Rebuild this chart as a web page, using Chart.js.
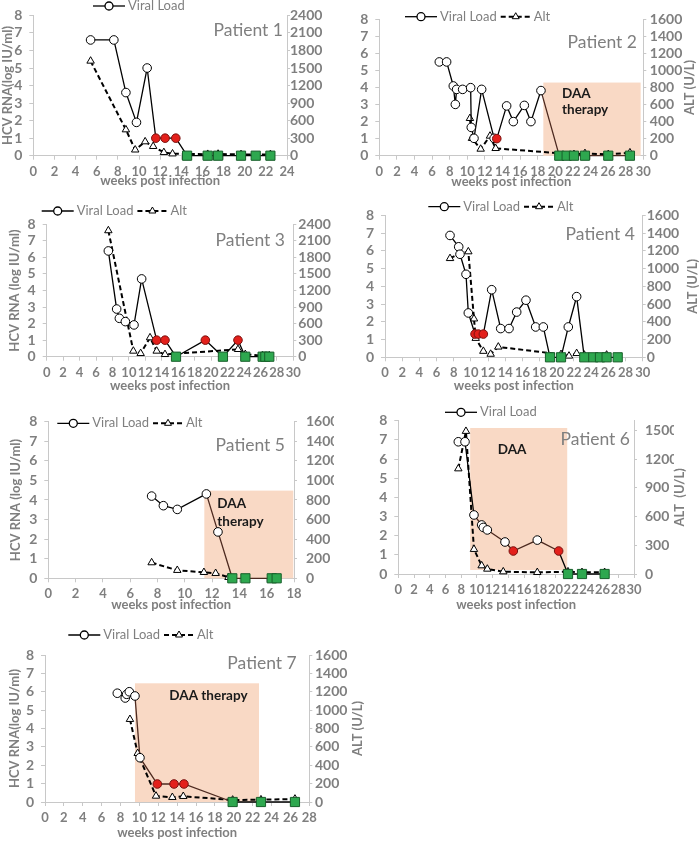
<!DOCTYPE html>
<html>
<head>
<meta charset="utf-8">
<script src="https://cdn.jsdelivr.net/npm/chart.js@4.4.1/dist/chart.umd.min.js"></script>
<style>
  html, body { margin: 0; padding: 0; background: #fff; }
  #wrap { position: relative; width: 700px; height: 843px; overflow: hidden; }
  canvas { position: absolute; }
</style>
</head>
<body>
<div id="wrap">
  <canvas id="c1" width="350" height="200" style="left:0;top:0"></canvas>
  <canvas id="c2" width="350" height="200" style="left:350px;top:0"></canvas>
  <canvas id="c3" width="350" height="200" style="left:0;top:200px"></canvas>
  <canvas id="c4" width="350" height="200" style="left:350px;top:200px"></canvas>
  <canvas id="c5" width="350" height="220" style="left:0;top:400px"></canvas>
  <canvas id="c6" width="350" height="220" style="left:350px;top:400px"></canvas>
  <canvas id="c7" width="400" height="223" style="left:0;top:620px"></canvas>
</div>
<script>
// ---- data (weeks post infection, log IU/ml, U/L) ----
// marker type: o = detectable, r = below quantification, g = undetectable
const p1VlWeeks = [5.42, 7.62, 8.76, 9.76, 10.77, 11.59, 12.47, 13.48, 14.55, 16.5, 17.48, 19.65, 21.04, 22.43];
const p1Vl      = [6.6, 6.6, 3.6, 1.9, 5.0, 1, 1, 1, 0, 0, 0, 0, 0, 0];
const p1VlType  = 'ooooo' + 'rrr' + 'gggggg';
const p1AltWeeks = [5.42, 8.76, 9.64, 10.58, 11.34, 12.35, 13.17, 16.5, 17.48, 19.65, 22.43];
const p1Alt      = [1620, 445, 100, 240, 160, 56, 33, 25, 28, 22, 22];

const p2VlWeeks = [6.82, 7.65, 8.41, 8.64, 8.79, 9.47, 10.38, 10.45, 10.76, 11.63, 13.05, 13.35, 14.47, 15.23, 16.48, 17.23, 18.37, 20.45, 21.29, 22.12, 23.37, 26.02, 28.48];
const p2Vl      = [5.5, 5.5, 4.09, 3.01, 3.89, 3.89, 3.99, 1.66, 1.02, 3.89, 1.02, 1.0, 2.92, 2.0, 2.95, 2.0, 3.82, 0, 0, 0, 0, 0, 0];
const p2VlType  = 'ooooooooooo' + 'r' + 'ooooo' + 'gggggg';
const p2AltWeeks = [10.3, 10.53, 11.52, 12.58, 13.22, 22.12, 23.37, 26.02, 28.48];
const p2Alt      = [438, 204, 78, 231, 86, 16, 27, 16, 35];
const p2Daa      = [18.64, 29.7, 0, 4.29];

const p3VlWeeks = [7.5, 8.51, 8.84, 9.57, 10.62, 11.55, 13.38, 14.39, 15.73, 19.3, 21.44, 23.27, 24.16, 26.27, 26.6, 27.08];
const p3Vl      = [6.39, 2.88, 2.32, 2.12, 1.92, 4.70, 1, 1, 0, 1, 0, 1, 0, 0, 0, 0];
const p3VlType  = 'oooooo' + 'rr' + 'g' + 'r' + 'g' + 'r' + 'gggg';
const p3AltWeeks = [7.5, 10.54, 11.43, 12.57, 13.38, 14.39, 23.27, 24.16, 26.27, 27.08];
const p3Alt      = [2286, 103, 60, 345, 103, 42, 133, 42, 18, 18];

const p4VlWeeks = [7.57, 8.58, 8.73, 9.43, 9.70, 10.48, 10.87, 11.45, 12.42, 13.47, 14.44, 15.33, 16.41, 17.54, 18.43, 19.21, 20.49, 21.34, 22.31, 23.2, 24.25, 25.03, 25.8, 27.09];
const p4Vl      = [6.87, 6.23, 5.81, 4.68, 2.50, 1.31, 1.31, 1.31, 3.81, 1.62, 1.62, 2.55, 3.22, 1.71, 1.71, 0, 0, 1.71, 3.42, 0, 0, 0, 0, 0];
const p4VlType  = 'ooooo' + 'rrr' + 'ooooooo' + 'gg' + 'oo' + 'ggggg';
const p4AltWeeks = [7.57, 8.73, 9.70, 10.36, 10.56, 11.45, 12.3, 13.19, 20.49, 21.42, 22.31, 23.2, 25.8];
const p4Alt      = [1115, 1173, 1191, 434, 215, 69, 36, 117, 33, 15, 44, 26, 26];

const p5VlWeeks = [7.57, 8.43, 9.45, 11.58, 12.43, 13.48, 14.44, 16.37, 16.73];
const p5Vl      = [4.2, 3.71, 3.52, 4.31, 2.37, 0, 0, 0, 0];
const p5VlType  = 'ooooo' + 'gggg';
const p5AltWeeks = [7.57, 9.45, 11.4, 12.26, 13.2];
const p5Alt      = [160, 82, 61, 51, 10];
const p5Daa      = [11.43, 17.95, 0, 4.48];

const p6VlWeeks = [7.64, 8.49, 9.63, 10.61, 10.82, 11.33, 13.58, 14.64, 17.69, 20.41, 21.6, 23.38, 26.26];
const p6Vl      = [6.9, 6.9, 3.08, 2.56, 2.43, 2.30, 1.67, 1.2, 1.77, 1.2, 0, 0, 0];
const p6VlType  = 'ooooooo' + 'r' + 'o' + 'r' + 'ggg';
const p6AltWeeks = [7.64, 8.61, 9.63, 10.61, 11.33, 13.36, 17.69, 21.6, 23.38, 26.26];
const p6Alt      = [1099, 1490, 258, 87, 52, 24, 17, 24, 17, 17];
const p6Daa      = [9.15, 21.5, 0.21, 7.62];

const p7VlWeeks = [7.66, 8.5, 8.65, 8.93, 9.53, 10.06, 11.9, 13.67, 14.72, 19.88, 22.88, 26.48];
const p7Vl      = [5.92, 5.66, 5.86, 6.0, 5.77, 2.41, 0.98, 0.98, 0.98, 0, 0, 0];
const p7VlType  = 'oooooo' + 'rrr' + 'ggg';
const p7AltWeeks = [9.0, 9.82, 11.76, 13.49, 14.65, 19.88, 22.88, 26.48];
const p7Alt      = [900, 530, 65, 51, 62, 22, 25, 33];
const p7Daa      = [9.53, 22.67, 0, 6.46];

// ---- look ----
const FONT = 'Lato, "Liberation Sans", sans-serif';
const GREY = '#7f7f7f';
const AXIS = '#c8c8c8';
const W_L = 25, W_R = 40, H_X = 30;

const panels = [
  { id: 'c1', x: 0, y: 0, w: 350, h: 200, area: [33.3, 12, 287, 155.7], xMax: 24, rMax: 2400, rStep: 300, rGap: 3,
    vlW: p1VlWeeks, vl: p1Vl, vlType: p1VlType, altW: p1AltWeeks, alt: p1Alt, daa: null,
    legend: [93, 6, false], patient: [283, 30, 'Patient 1'], xTitleY: 181,
    leftTitle: [8.3, 'HCV RNA(log IU/ml)'], rightTitle: null, daaText: [] },
  { id: 'c2', x: 350, y: 0, w: 350, h: 200, area: [379.3, 19.3, 643.3, 155.7], xMax: 30, rMax: 1600, rStep: 200, rGap: 6.5,
    vlW: p2VlWeeks, vl: p2Vl, vlType: p2VlType, altW: p2AltWeeks, alt: p2Alt, daa: p2Daa,
    legend: [405, 16.7, true], patient: [637, 42.7, 'Patient 2'], xTitleY: 181.7,
    leftTitle: null, rightTitle: [690, 'ALT (U/L)'], daaText: [['DAA', 562, 93.3], ['therapy', 562, 110]] },
  { id: 'c3', x: 0, y: 200, w: 350, h: 200, area: [46.7, 224.3, 293.3, 356.7], xMax: 30, rMax: 2400, rStep: 300, rGap: 5,
    vlW: p3VlWeeks, vl: p3Vl, vlType: p3VlType, altW: p3AltWeeks, alt: p3Alt, daa: null,
    legend: [41.7, 211, true], patient: [285, 240.7, 'Patient 3'], xTitleY: 385.7,
    leftTitle: [15, 'HCV RNA (log IU/ml)'], rightTitle: null, daaText: [] },
  { id: 'c4', x: 350, y: 200, w: 350, h: 200, area: [385, 211, 642.7, 357.3], xMax: 30, rMax: 1600, rStep: 200, rGap: 4,
    vlW: p4VlWeeks, vl: p4Vl, vlType: p4VlType, altW: p4AltWeeks, alt: p4Alt, daa: null,
    legend: [428.3, 206.7, true], patient: [635, 234.3, 'Patient 4'], xTitleY: 385.7,
    leftTitle: null, rightTitle: [693, 'ALT (U/L)'], daaText: [] },
  { id: 'c5', x: 0, y: 400, w: 350, h: 220, area: [48.3, 421.7, 294, 578.3], xMax: 18, rMax: 1600, rStep: 200, rGap: 12,
    vlW: p5VlWeeks, vl: p5Vl, vlType: p5VlType, altW: p5AltWeeks, alt: p5Alt, daa: p5Daa,
    legend: [57.3, 423.3, true], patient: [285, 445, 'Patient 5'], xTitleY: 605,
    leftTitle: [16, 'HCV RNA (log IU/ml)'], rightTitle: null, daaText: [['DAA', 217.3, 504], ['therapy', 217.3, 521.7]] },
  { id: 'c6', x: 350, y: 400, w: 350, h: 220, area: [398.3, 420.7, 634, 574], xMax: 30, rMax: 1600, rStep: 300, rGap: 11,
    vlW: p6VlWeeks, vl: p6Vl, vlType: p6VlType, altW: p6AltWeeks, alt: p6Alt, daa: p6Daa,
    legend: [445, 412.3, false], patient: [630, 439.3, 'Patient 6'], xTitleY: 605,
    leftTitle: null, rightTitle: [680, 'ALT  (U/L)'], daaText: [['DAA', 497.7, 449.3]] },
  { id: 'c7', x: 0, y: 620, w: 400, h: 223, area: [45, 655, 309.3, 802], xMax: 28, rMax: 1600, rStep: 200, rGap: 5.7,
    vlW: p7VlWeeks, vl: p7Vl, vlType: p7VlType, altW: p7AltWeeks, alt: p7Alt, daa: p7Daa,
    legend: [68.3, 635, true], patient: [296.7, 663.3, 'Patient 7'], xTitleY: 833,
    leftTitle: [15, 'HCV RNA(log IU/ml)'], rightTitle: [358, 'ALT (U/L)'], daaText: [['DAA therapy', 169.3, 696]] }
];

function pts(xs, ys) { return xs.map((x, i) => ({ x: x, y: ys[i] })); }

function markerStyles(types) {
  const t = types.split('');
  return {
    style: t.map(k => k === 'g' ? 'rect' : 'circle'),
    radius: t.map(k => k === 'g' ? 6.5 : 4.3),
    bg: t.map(k => k === 'g' ? '#2ea84f' : (k === 'r' ? '#e3201b' : '#ffffff')),
    border: t.map(k => k === 'g' ? '#175f2a' : (k === 'r' ? '#7a1210' : '#000000'))
  };
}

function drawLegend(ctx, x, y, withAlt) {
  ctx.save();
  ctx.font = '13px ' + FONT;
  ctx.textBaseline = 'middle';
  ctx.strokeStyle = '#000';
  ctx.lineWidth = 1.3;
  ctx.beginPath(); ctx.moveTo(x, y); ctx.lineTo(x + 32, y); ctx.stroke();
  ctx.beginPath(); ctx.arc(x + 16, y, 4, 0, Math.PI * 2);
  ctx.fillStyle = '#fff'; ctx.fill(); ctx.stroke();
  ctx.fillStyle = GREY;
  ctx.fillText('Viral Load', x + 35, y);
  if (withAlt) {
    const x2 = x + 35 + ctx.measureText('Viral Load').width + 4;
    ctx.lineWidth = 2; ctx.setLineDash([5, 3]);
    ctx.beginPath(); ctx.moveTo(x2, y); ctx.lineTo(x2 + 30, y); ctx.stroke();
    ctx.setLineDash([]); ctx.lineWidth = 1;
    const cx = x2 + 15, r = 4;
    ctx.beginPath();
    ctx.moveTo(cx, y - r); ctx.lineTo(cx + r * 0.87, y + r * 0.5); ctx.lineTo(cx - r * 0.87, y + r * 0.5); ctx.closePath();
    ctx.fillStyle = '#fff'; ctx.fill(); ctx.stroke();
    ctx.fillStyle = GREY;
    ctx.fillText('Alt', x2 + 33, y);
  }
  ctx.restore();
}

function makeOverlay(p) {
  return {
    id: 'overlay' + p.id,
    beforeDatasetsDraw(chart) {
      if (!p.daa) return;
      const xs = chart.scales.x, ys = chart.scales.y, ctx = chart.ctx;
      const x0 = xs.getPixelForValue(p.daa[0]), x1 = xs.getPixelForValue(p.daa[1]);
      const y0 = ys.getPixelForValue(p.daa[2]), y1 = ys.getPixelForValue(p.daa[3]);
      ctx.save();
      ctx.fillStyle = '#f9d9c5';
      ctx.fillRect(x0, y1, x1 - x0, y0 - y1);
      ctx.restore();
    },
    afterDraw(chart) {
      const ctx = chart.ctx, a = chart.chartArea;
      const ox = p.x, oy = p.y;
      ctx.save();
      // daa labels
      ctx.font = 'bold 13.5px ' + FONT;
      ctx.fillStyle = '#1a1a1a';
      ctx.textBaseline = 'middle';
      ctx.textAlign = 'left';
      p.daaText.forEach(t => ctx.fillText(t[0], t[1] - ox, t[2] - oy));
      // patient label
      ctx.font = '17.5px ' + FONT;
      ctx.fillStyle = GREY;
      ctx.textAlign = 'right';
      ctx.fillText(p.patient[2], p.patient[0] - ox, p.patient[1] - oy);
      // axis titles
      ctx.font = 'bold 13px ' + FONT;
      ctx.textAlign = 'center';
      ctx.fillText('weeks post infection', (a.left + a.right) / 2, p.xTitleY - oy);
      const cy = (a.top + a.bottom) / 2;
      [p.leftTitle, p.rightTitle].forEach(t => {
        if (!t) return;
        ctx.save();
        ctx.translate(t[0] - ox, cy);
        ctx.rotate(-Math.PI / 2);
        ctx.fillText(t[1], 0, 0);
        ctx.restore();
      });
      ctx.restore();
      drawLegend(ctx, p.legend[0] - ox, p.legend[1] - oy, p.legend[2]);
    }
  };
}

function tickFont(size) { return { family: FONT, size: size, weight: 'bold' }; }
const plain = v => String(v);

panels.forEach(p => {
  const m = markerStyles(p.vlType);
  const daa = p.daa;
  const inBox = ctx => daa && ctx.p0.parsed.x >= daa[0] - 0.3 && ctx.p1.parsed.x <= daa[1];
  new Chart(document.getElementById(p.id), {
    type: 'scatter',
    data: {
      datasets: [
        {
          label: 'Alt',
          data: pts(p.altW, p.alt),
          yAxisID: 'yR',
          showLine: true,
          borderColor: '#000',
          borderWidth: 2,
          borderDash: [5, 3],
          pointStyle: 'triangle',
          pointRadius: 4.3,
          pointBackgroundColor: '#fff',
          pointBorderColor: '#000',
          pointBorderWidth: 1,
          clip: false,
          order: 2
        },
        {
          label: 'Viral Load',
          data: pts(p.vlW, p.vl),
          yAxisID: 'y',
          showLine: true,
          borderColor: '#000',
          borderWidth: 1.3,
          segment: { borderColor: ctx => inBox(ctx) ? '#4d2a20' : '#000' },
          pointStyle: m.style,
          pointRadius: m.radius,
          pointBackgroundColor: m.bg,
          pointBorderColor: m.border,
          pointBorderWidth: 1,
          clip: false,
          order: 1
        }
      ]
    },
    options: {
      responsive: false,
      animation: false,
      events: [],
      layout: {
        padding: {
          left: p.area[0] - p.x - W_L,
          right: p.x + p.w - p.area[2] - W_R,
          top: p.area[1] - p.y,
          bottom: p.y + p.h - p.area[3] - H_X
        }
      },
      plugins: { legend: { display: false }, tooltip: { enabled: false } },
      scales: {
        x: {
          type: 'linear', min: 0, max: p.xMax,
          afterFit: s => { s.height = H_X; },
          grid: { drawOnChartArea: false, drawTicks: true, tickLength: 4, color: AXIS },
          border: { display: true, color: AXIS },
          ticks: { stepSize: 2, padding: 4, color: GREY, font: tickFont(13), maxRotation: 0, autoSkip: false, includeBounds: false, callback: plain }
        },
        y: {
          position: 'left', min: 0, max: 8,
          afterFit: s => { s.width = W_L; },
          grid: { drawOnChartArea: false, drawTicks: true, tickLength: 4, color: AXIS },
          border: { display: true, color: AXIS },
          ticks: { stepSize: 1, padding: 7, color: GREY, font: tickFont(14), autoSkip: false, includeBounds: false, callback: plain }
        },
        yR: {
          position: 'right', min: 0, max: p.rMax,
          afterFit: s => { s.width = W_R; },
          grid: { drawOnChartArea: false, drawTicks: true, tickLength: 3, color: AXIS },
          border: { display: true, color: AXIS },
          ticks: { stepSize: p.rStep, padding: Math.max(0, p.rGap - 3), color: GREY, font: tickFont(14), autoSkip: false, includeBounds: false, callback: plain }
        }
      }
    },
    plugins: [makeOverlay(p)]
  });
});
</script>
</body>
</html>
